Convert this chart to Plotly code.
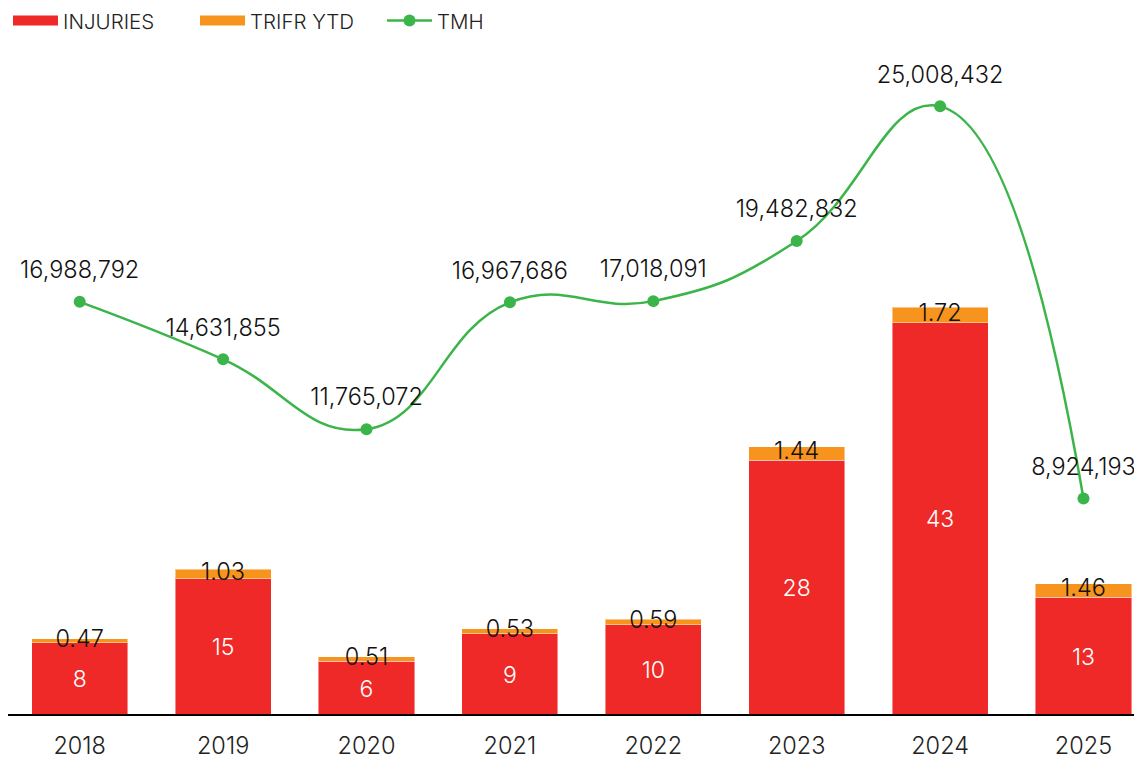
import plotly.graph_objects as go

years = ["2018", "2019", "2020", "2021", "2022", "2023", "2024", "2025"]
injuries = [8, 15, 6, 9, 10, 28, 43, 13]
trifr_ytd = [0.47, 1.03, 0.51, 0.53, 0.59, 1.44, 1.72, 1.46]
tmh = [16988792, 14631855, 11765072, 16967686, 17018091, 19482832, 25008432, 8924193]

RED = "#EE2927"
ORANGE = "#F7941D"
GREEN = "#3BB54A"
FONT = "Inter"
W = 300

fig = go.Figure()

fig.add_trace(go.Bar(
    x=years, y=injuries, name="INJURIES", showlegend=False,
    marker=dict(color=RED, line=dict(color="rgba(255,255,255,0.45)", width=1)),
    text=[str(v) for v in injuries], textposition="inside", insidetextanchor="middle",
    textfont=dict(color="white", size=23, family=FONT, weight=W), constraintext="none",
    hoverinfo="skip",
))
fig.add_trace(go.Bar(
    x=years, y=trifr_ytd, name="TRIFR YTD", showlegend=False,
    marker=dict(color=ORANGE, line=dict(color="rgba(255,255,255,0.45)", width=1)),
    hoverinfo="skip",
))
# TRIFR labels centred on the orange segments
fig.add_trace(go.Scatter(
    x=years, y=[i + t / 2 for i, t in zip(injuries, trifr_ytd)],
    mode="text", text=[f"{t:.2f}" for t in trifr_ytd], textposition="middle center",
    textfont=dict(color="#111111", size=23.5, family=FONT, weight=W),
    showlegend=False, hoverinfo="skip", cliponaxis=False,
))
fig.add_trace(go.Scatter(
    x=years, y=tmh, name="TMH", yaxis="y2", showlegend=False,
    mode="lines+markers", line=dict(color=GREEN, width=2.5, shape="spline", smoothing=1.3),
    marker=dict(color=GREEN, size=12), cliponaxis=False, hoverinfo="skip",
))
# TMH value labels above the points (transparent spacer markers set the offset)
fig.add_trace(go.Scatter(
    x=years, y=tmh, yaxis="y2", showlegend=False, mode="markers+text",
    marker=dict(size=27, color="rgba(0,0,0,0)"),
    text=[f"{v:,}" for v in tmh], textposition="top center",
    textfont=dict(size=23.5, color="#111111", family=FONT, weight=W),
    cliponaxis=False, hoverinfo="skip",
))

# legend entries (wide swatches like the reference)
fig.add_trace(go.Scatter(x=[None], y=[None], mode="lines", name="INJURIES",
                         line=dict(color=RED, width=12)))
fig.add_trace(go.Scatter(x=[None], y=[None], mode="lines", name="TRIFR YTD",
                         line=dict(color=ORANGE, width=12)))
fig.add_trace(go.Scatter(x=[None], y=[None], mode="lines+markers", name="TMH",
                         line=dict(color=GREEN, width=2.5), marker=dict(color=GREEN, size=12)))

hidden = dict(showgrid=False, zeroline=False, showline=False, showticklabels=False, ticks="")

fig.update_layout(
    width=1134, height=751,
    margin=dict(l=0, r=0, t=32, b=45, autoexpand=False),
    paper_bgcolor="white", plot_bgcolor="white",
    barmode="stack", bargap=0.33,
    font=dict(family=FONT, color="#222222", weight=W),
    showlegend=True,
    legend=dict(orientation="h", x=0, y=1.0285, xanchor="left", yanchor="middle",
                font=dict(size=20.5, color="#222222", family=FONT, weight=W),
                traceorder="normal", itemwidth=45,
                entrywidth=127, entrywidthmode="pixels"),
    xaxis=dict(type="category", range=[-0.5, 7.408], showline=True, linecolor="black",
               linewidth=2, showgrid=False, zeroline=False, ticks="outside", ticklen=10,
               tickcolor="rgba(0,0,0,0)",
               tickfont=dict(size=23.5, color="#222222", family=FONT, weight=W)),
    yaxis=dict(range=[0.22, 73.96], **hidden),
    yaxis2=dict(range=[82000, 27.73e6], overlaying="y", side="right", **hidden),
)

fig.write_html("out.html")
